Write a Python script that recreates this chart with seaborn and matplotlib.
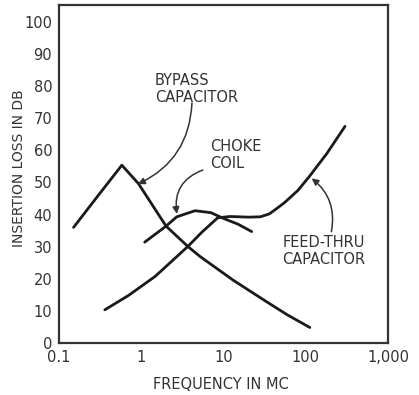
import numpy as np
import pandas as pd
import seaborn as sns
import matplotlib
matplotlib.use('Agg')
import matplotlib.pyplot as plt

# values (frequency in MC, loss in DB)
bypass_x = [0.15, 0.3, 0.58, 0.92, 2.0, 3.7, 5.2, 13, 33, 60, 112]
bypass_y = [36.0, 46.0, 55.4, 49.7, 36.4, 30.0, 26.9, 19.6, 12.9, 8.7, 4.8]

choke_x = [1.1, 2.0, 2.7, 4.5, 7, 10, 15, 22]
choke_y = [31.4, 36.4, 39.3, 41.2, 40.6, 38.8, 37.0, 34.7]

feed_x = [0.36, 0.7, 1.47, 2.5, 3.66, 5.5, 8.5, 12, 20, 28, 36, 45, 55, 80, 110, 180, 300]
feed_y = [10.3, 14.8, 20.7, 26.1, 30.0, 34.6, 39.0, 39.4, 39.2, 39.3, 40.2, 42.0, 43.7, 47.5, 51.8, 59.0, 67.5]

y_ticks = [0, 10, 20, 30, 40, 50, 60, 70, 80, 90, 100]
x_ticks = [0.1, 1, 10, 100, 1000]
x_tick_labels = ['0.1', '1', '10', '100', '1,000']

sns.set_style('white')
plt.rcParams['font.family'] = ['DejaVu Sans']

fig = plt.figure(figsize=(4.19, 3.95), dpi=100)
ax = fig.add_axes([0.141, 0.132, 0.785, 0.855])

ink = '#1a1a1a'
for xs, ys in [(bypass_x, bypass_y), (choke_x, choke_y), (feed_x, feed_y)]:
    df = pd.DataFrame({'freq': xs, 'loss': ys})
    sns.lineplot(data=df, x='freq', y='loss', sort=False, color=ink, lw=2.0, ax=ax)

ax.set_xscale('log')
ax.set_xlim(0.1, 1000)
ax.set_ylim(0, 105.3)
ax.set_xticks(x_ticks)
ax.set_xticklabels(x_tick_labels)
ax.xaxis.set_minor_locator(matplotlib.ticker.NullLocator())
ax.set_yticks(y_ticks)
ax.tick_params(direction='in', length=7, width=1.3, color='#333333',
               labelsize=10.5, labelcolor='#333333', pad=5)

for s in ax.spines.values():
    s.set_linewidth(1.6)
    s.set_color('#333333')

ax.set_xlabel('FREQUENCY IN MC', fontsize=10.5, color='#333333')
ax.set_ylabel('INSERTION LOSS IN DB', fontsize=10, color='#333333')
ax.xaxis.set_label_coords(0.492, -0.10)
ax.yaxis.set_label_coords(-0.10, 0.516)

# curve labels with arrows
tkw = dict(fontsize=10.5, color='#333333', ha='left', va='top', linespacing=1.15)
ax.text(1.47, 84, 'BYPASS\nCAPACITOR', **tkw)
ax.text(6.8, 63.5, 'CHOKE\nCOIL', **tkw)
ax.text(52, 33.5, 'FEED-THRU\nCAPACITOR', **tkw)

akw = dict(arrowstyle='-|>', color='#333333', lw=1.1, mutation_scale=10, shrinkA=0, shrinkB=0)
ax.annotate('', xy=(0.91, 49.5), xytext=(4.13, 74.8),
            arrowprops=dict(connectionstyle='arc3,rad=-0.3', **akw))
ax.annotate('', xy=(2.71, 40.2), xytext=(5.6, 53.9),
            arrowprops=dict(connectionstyle='arc3,rad=0.4', **akw))
ax.annotate('', xy=(118, 51.3), xytext=(205, 34.7),
            arrowprops=dict(connectionstyle='arc3,rad=0.3', **akw))

fig.savefig('out.png', dpi=100)
